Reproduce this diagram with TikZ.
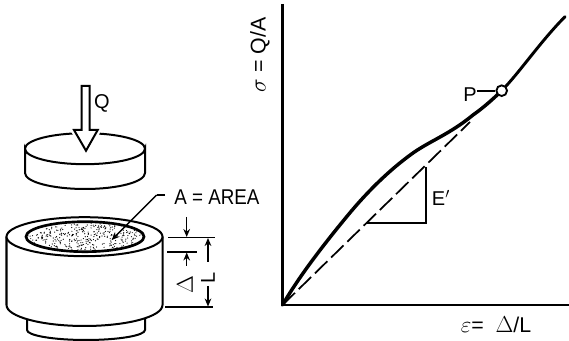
\documentclass[tikz,border=0pt]{standalone}
\usepackage{fontspec}
\setmainfont{Liberation Sans}
\usetikzlibrary{arrows.meta}
\tikzset{
  ln/.style={line width=1.5pt,black},
  thick axis/.style={line width=1.9pt,black},
  curve/.style={line width=2.6pt,black,line cap=round},
  thin dim/.style={line width=1.2pt,black},
  dimarrow/.style={line width=1.1pt,black,-{Stealth[length=6pt,width=5pt]}},
  lbl/.style={inner sep=0pt,font=\fontsize{15}{15}\selectfont},
}
\begin{document}
\begin{tikzpicture}[x=0.75pt,y=-0.75pt]
\useasboundingbox (0,0) rectangle (569,341);
\fill[white] (0,0) rectangle (569,341);
% axes
\coordinate (o) at (282.5,305);
\coordinate (ytop) at (282.5,4);
\coordinate (xend) at (569,305);
\draw[thick axis] (ytop) -- (o) -- (xend);
% curve
\draw[curve] (o) .. controls (300,275) and (325,243) .. (346.7,216.7)
  .. controls (362,198) and (385,173) .. (413,153)
  .. controls (430,141) and (450,134) .. (473,115)
  .. controls (483,108) and (492,100) .. (501.7,90.7);
\draw[curve,line width=2.2pt] (501.7,90.7) .. controls (520,72) and (540,42) .. (565,16.7);
% dashed
\coordinate (dashend) at (470,122);
\draw[line width=1.3pt,dash pattern=on 13pt off 4pt] (o) -- (dashend);
% triangle
\coordinate (t1) at (366.7,223.3);
\coordinate (t2) at (426,223.3);
\coordinate (t3) at (426,166.7);
\draw[ln] (t1) -- (t2) -- (t3);
\node[lbl] (eprime) at (441,198) {E$^{\prime}$};
% P
\node[lbl] (plbl) at (470,95) {P};
\node[circle,draw,line width=1.4pt,fill=white,minimum size=8pt,inner sep=0pt] (pc) at (501.7,90.7) {};
\draw[ln] (plbl.east |- pc.west) -- (pc.west);
% axis labels
\node[lbl,rotate=90,font=\fontsize{16}{16}\selectfont] (sig) at (260,55) {$\sigma$ = Q/A};
\node[lbl,font=\fontsize{16}{16}\selectfont] (eps) at (496,325) {$\varepsilon$=\ \ $\Delta$/L};
% top disk
\draw[ln,fill=white] (25,148.7) arc[start angle=180,end angle=0,x radius=60,y radius=15.5] -- (145,173)
  arc[start angle=0,end angle=180,x radius=60,y radius=16] -- cycle;
\draw[ln] (25,148.7) arc[start angle=180,end angle=360,x radius=60,y radius=15.5];
% Q arrow
\draw[white,line width=5pt] (74,130) -- (86,150.7) -- (97.7,130) -- cycle;
\draw[ln,fill=white] (81.7,86) -- (81.7,130) -- (74,130) -- (86,150.7) -- (97.7,130) -- (89.5,130) -- (89.5,86) -- cycle;
\node[lbl] (q) at (102,103) {Q};
% stub
\draw[ln,fill=white] (27,315) -- (27,330) arc[start angle=180,end angle=0,x radius=59,y radius=10] -- (145,315);
% cylinder
\draw[ln,fill=white] (6.5,236.7) -- (6.5,305) arc[start angle=180,end angle=0,x radius=78,y radius=21] -- (162.5,236.7);
\draw[ln,fill=white] (84.5,236.7) ellipse[x radius=78,y radius=19.5];
\draw[line width=2pt,fill=white] (85,236.7) ellipse[x radius=59,y radius=15];
\begin{scope}
\clip (85,236.7) ellipse[x radius=57,y radius=13.5];
\pgfmathsetseed{4711}
\foreach \i in {1,...,420}{
  \pgfmathsetmacro{\dx}{rand*58}
  \pgfmathsetmacro{\dy}{rand*14}
  \fill (85+\dx,236.7+\dy) circle[radius=0.6];
}
\end{scope}
% leader A
\node[lbl,font=\fontsize{16}{16}\selectfont] (area) at (217,197) {\scalebox{0.88}[1]{A = AREA}};
\coordinate (la) at (165,195);
\coordinate (lb) at (156.7,195);
\coordinate (lc) at (111.7,240);
\draw[line width=1.8pt] (la) -- (lb);
\draw[dimarrow] (lb) -- (lc);
% dimensions
\coordinate (d1a) at (168,237.7); \coordinate (d1b) at (215,237.7);
\coordinate (d2a) at (167,252); \coordinate (d2b) at (197,252);
\coordinate (d3a) at (165,307); \coordinate (d3b) at (213,307);
\draw[thin dim] (d1a) -- (d1b);
\draw[thin dim] (d2a) -- (d2b);
\draw[thin dim] (d3a) -- (d3b);
\coordinate (a1) at (186.7,217);
\coordinate (a1e) at (186.7,237);
\draw[dimarrow] (a1) -- (a1e);
\coordinate (a2) at (186.7,266);
\coordinate (a2e) at (186.7,252.5);
\draw[dimarrow] (a2) -- (a2e);
\node[lbl,rotate=90,font=\fontsize{17}{17}\selectfont] (delta) at (185,285) {$\Delta$};
\node[lbl,rotate=90] (lL) at (208,278) {L};
\coordinate (a3) at (208,262);
\coordinate (a3e) at (208,238);
\draw[dimarrow] (a3) -- (a3e);
\coordinate (a4) at (208,286);
\coordinate (a4e) at (208,306.5);
\draw[dimarrow] (a4) -- (a4e);
\end{tikzpicture}
\end{document}
